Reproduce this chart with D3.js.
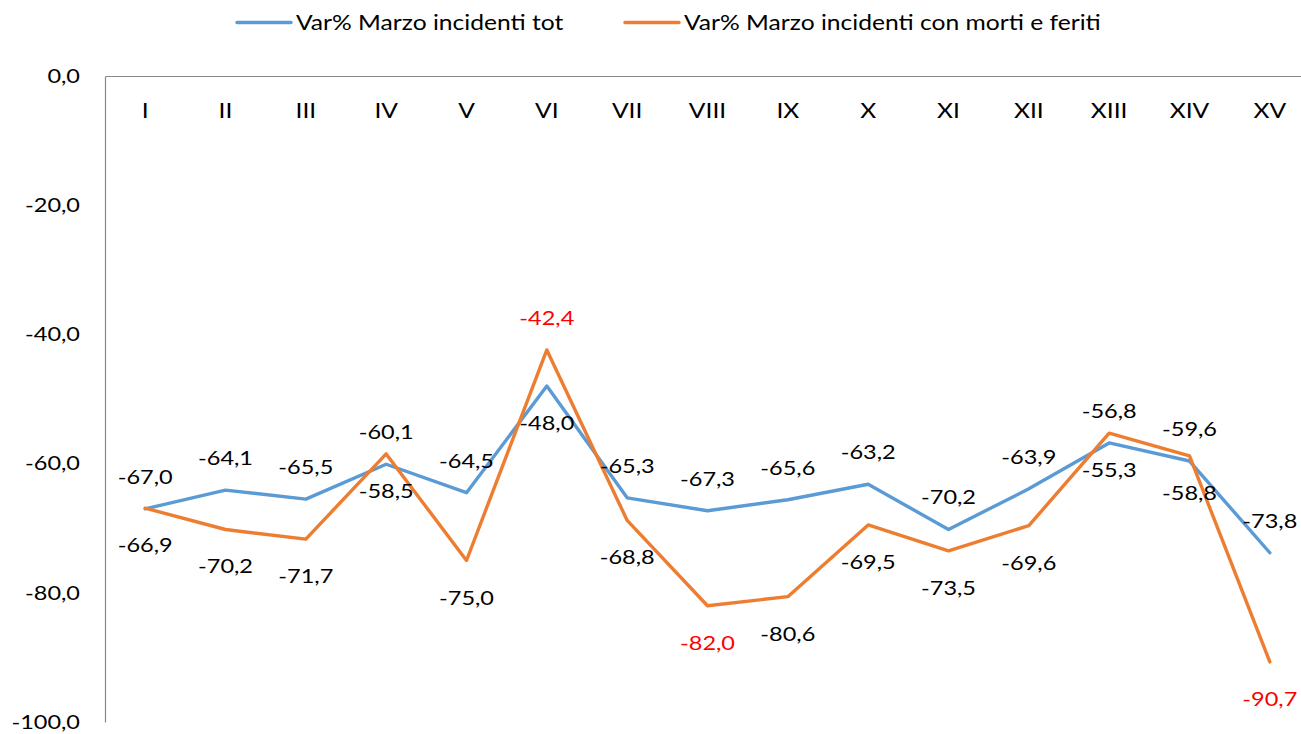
<!DOCTYPE html>
<html><head><meta charset="utf-8">
<script src="https://cdn.jsdelivr.net/npm/d3@7"></script>
<style>body{margin:0;background:#fff}svg{display:block}</style>
</head><body>
<svg id="c" width="1301" height="734"></svg>
<script>
const categories = ["I","II","III","IV","V","VI","VII","VIII","IX","X","XI","XII","XIII","XIV","XV"];
const totValues = [-67.0,-64.1,-65.5,-60.1,-64.5,-48.0,-65.3,-67.3,-65.6,-63.2,-70.2,-63.9,-56.8,-59.6,-73.8];
const feritiValues = [-66.9,-70.2,-71.7,-58.5,-75.0,-42.4,-68.8,-82.0,-80.6,-69.5,-73.5,-69.6,-55.3,-58.8,-90.7];
const seriesNames = ["Var% Marzo incidenti tot","Var% Marzo incidenti con morti e feriti"];
const yTicks = [0,-20,-40,-60,-80,-100];
const totLabelSide = ["above","above","above","above","above","below","above","above","above","above","above","above","above","above","above"];
const feritiLabelSide = ["below","below","below","below","below","above","below","below","below","below","below","below","below","below","below"];
const feritiRedLabels = [5,7,14];

const FONT = "Lato, 'Open Sans', sans-serif";
const NUM_SIZE = 19.6, TXT_SIZE = 21.6;
const SX_NUM = 1.2, SX_TXT = 1.14;
const COLORS = ["#5B9BD5","#ED7D31"];
const AXIS_COLOR = "#898989";

const locale = d3.formatLocale({decimal:",", thousands:".", grouping:[3], currency:["","€"], minus:"-"});
const fmt = locale.format(".1f");

const svg = d3.select("#c");
const x = d3.scaleBand().domain(categories).range([105, 1310]);
const xc = c => x(c) + x.bandwidth()/2;
const y = d3.scaleLinear().domain([-100, 0]).range([722, 76]);

// y axis
const yAxis = svg.append("g").attr("transform","translate(105,0)")
  .call(d3.axisLeft(y).tickValues(yTicks).tickSize(0).tickPadding(25).tickFormat(fmt));
yAxis.select(".domain").attr("stroke",AXIS_COLOR).attr("stroke-width",1.2);
yAxis.selectAll("text").attr("font-family",FONT).attr("font-size",NUM_SIZE).attr("fill","#000")
  .attr("transform",`translate(-25,0) scale(${SX_NUM},1) translate(25,0)`);

// x axis at the zero line (top)
const xAxis = svg.append("g").attr("transform",`translate(0,${y(0)})`)
  .call(d3.axisBottom(x).tickSize(0).tickSizeOuter(0).tickPadding(27));
xAxis.select(".domain").attr("stroke",AXIS_COLOR).attr("stroke-width",1.2);
xAxis.selectAll("text").attr("font-family",FONT).attr("font-size",TXT_SIZE).attr("fill","#000")
  .attr("transform",`scale(${SX_TXT},1)`).attr("x",0);

// lines
const line = d3.line().x((d,i)=>xc(categories[i])).y(d=>y(d));
[totValues, feritiValues].forEach((vals,k)=>{
  svg.append("path").datum(vals).attr("d",line).attr("fill","none")
    .attr("stroke",COLORS[k]).attr("stroke-width",3.4)
    .attr("stroke-linejoin","round").attr("stroke-linecap","round");
});

// data labels
function labels(vals, sides, redIdx){
  svg.append("g").selectAll("text").data(vals).join("text")
    .attr("font-family",FONT).attr("font-size",NUM_SIZE).attr("text-anchor","middle")
    .attr("fill",(d,i)=>redIdx.includes(i)?"#FF0000":"#000")
    .attr("transform",(d,i)=>{
      const py = y(d) + (sides[i]==="above" ? -25 : 44);
      return `translate(${xc(categories[i])},${py}) scale(${SX_NUM},1)`;
    })
    .text(d=>fmt(d));
}
labels(totValues, totLabelSide, []);
labels(feritiValues, feritiLabelSide, feritiRedLabels);

// legend
const legendX = [237, 625];
const lg = svg.append("g");
seriesNames.forEach((name,k)=>{
  lg.append("line").attr("x1",legendX[k]).attr("x2",legendX[k]+54).attr("y1",22.5).attr("y2",22.5)
    .attr("stroke",COLORS[k]).attr("stroke-width",3.4).attr("stroke-linecap","round");
  lg.append("text").attr("font-family",FONT).attr("font-size",TXT_SIZE).attr("fill","#000")
    .attr("transform",`translate(${legendX[k]+59},30) scale(${SX_TXT},1)`).text(name);
});
</script>
</body></html>
